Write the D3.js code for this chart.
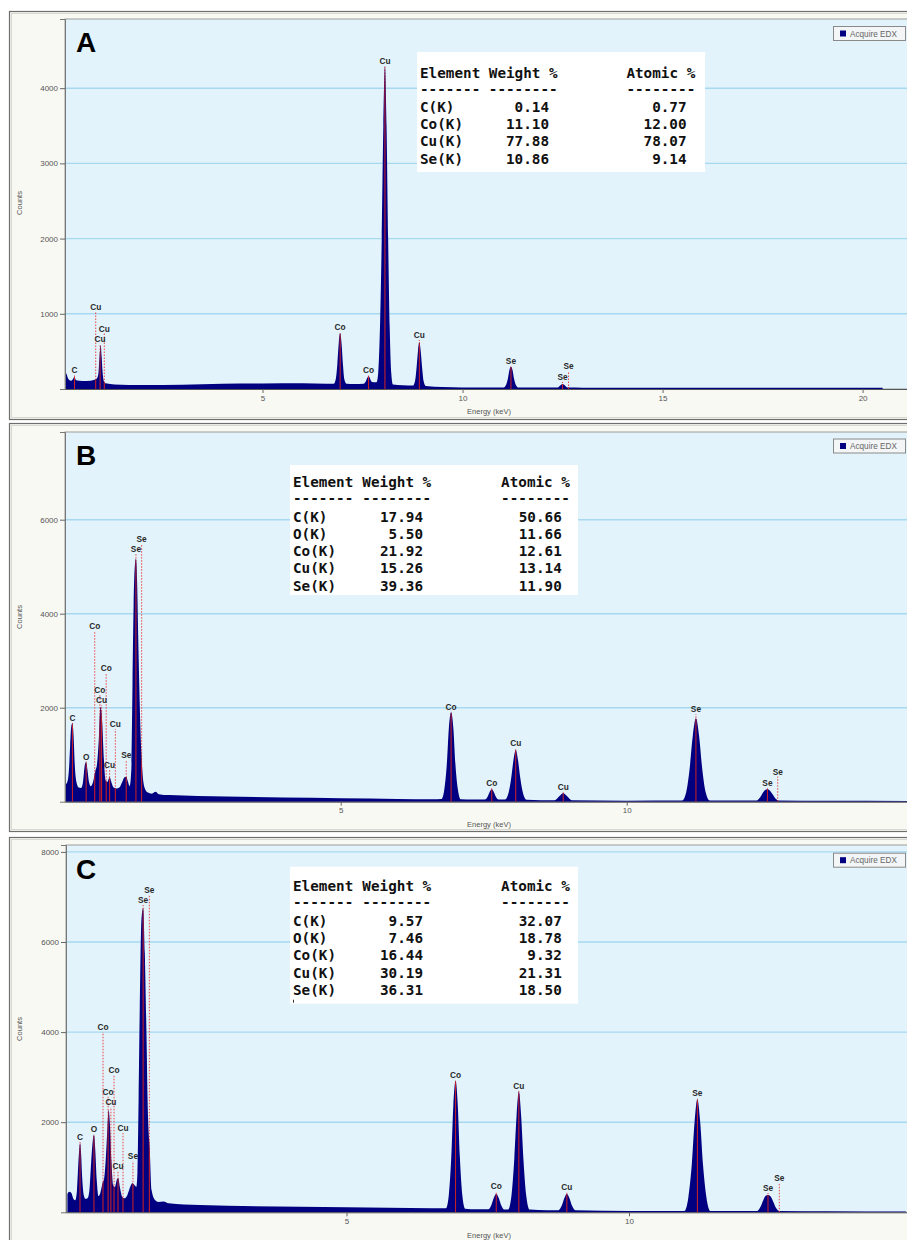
<!DOCTYPE html>
<html>
<head>
<meta charset="utf-8">
<script src="https://cdn.jsdelivr.net/npm/d3@7/dist/d3.min.js"></script>
<style>
  body { margin: 0; background: #fff; }
  svg { display: block; }
</style>
</head>
<body>
<div id="chart"></div>
<script>
// ---- spectra: [energy keV, counts] ----
var spectrumA = [
  [0.07, 230], [0.1, 200], [0.15, 130], [0.22, 110], [0.27, 140], [0.3, 160], [0.34, 115], [0.5, 105],
  [0.7, 110], [0.82, 125], [0.87, 150], [0.9, 220], [0.925, 420], [0.955, 585], [0.98, 420], [1.0, 240],
  [1.03, 110], [1.08, 75], [1.3, 60], [2.0, 52], [3.0, 58], [4.0, 70], [5.0, 72], [6.0, 75], [6.6, 70],
  [6.78, 70], [6.83, 130], [6.87, 330], [6.905, 610], [6.94, 740], [6.975, 610], [7.01, 330], [7.05, 120], [7.1, 70],
  [7.3, 65], [7.53, 70], [7.58, 100], [7.62, 150], [7.65, 165], [7.68, 150], [7.72, 100], [7.77, 90],
  [7.85, 90], [7.89, 200], [7.94, 900], [7.98, 2000], [8.02, 3500], [8.06, 4285], [8.1, 3500], [8.14, 2000],
  [8.18, 800], [8.22, 200], [8.26, 60], [8.5, 50], [8.76, 45], [8.81, 100], [8.85, 280], [8.885, 500],
  [8.92, 620], [8.955, 500], [8.99, 280], [9.03, 100], [9.08, 40], [9.5, 25], [10.0, 20], [11.03, 20],
  [11.08, 45], [11.13, 130], [11.17, 250], [11.21, 297], [11.25, 250], [11.29, 130], [11.34, 45], [11.39, 20],
  [12.38, 20], [12.45, 50], [12.5, 66], [12.55, 50], [12.62, 20], [13.0, 18], [15.0, 15], [18.0, 15], [20.5, 15]
];
var spectrumB = [
  [0.18, 355], [0.22, 420], [0.25, 700], [0.27, 1200], [0.29, 1600], [0.31, 1668], [0.33, 1400], [0.35, 800],
  [0.38, 420], [0.42, 300], [0.46, 290], [0.49, 380], [0.51, 600], [0.53, 800], [0.55, 838], [0.57, 700],
  [0.6, 420], [0.63, 330], [0.67, 420], [0.71, 650], [0.74, 800], [0.77, 1300], [0.8, 2021], [0.83, 1700],
  [0.86, 900], [0.89, 450], [0.92, 420], [0.96, 520], [0.99, 420], [1.03, 300], [1.08, 280], [1.13, 300],
  [1.18, 420], [1.22, 520], [1.25, 532], [1.28, 430], [1.31, 330], [1.34, 700], [1.36, 2500], [1.38, 4200],
  [1.4, 5000], [1.42, 5170], [1.44, 4700], [1.46, 3500], [1.48, 2400], [1.5, 1500], [1.53, 700], [1.57, 300],
  [1.62, 200], [1.7, 170], [1.76, 210], [1.82, 160], [2.0, 140], [3.0, 110], [4.0, 90], [5.0, 75], [6.0, 60],
  [6.6, 50], [6.76, 55], [6.81, 250], [6.855, 800], [6.89, 1550], [6.93, 1902], [6.97, 1550], [7.005, 800],
  [7.05, 250], [7.1, 50], [7.3, 45], [7.52, 45], [7.57, 110], [7.61, 220], [7.64, 264], [7.67, 220], [7.71, 110],
  [7.76, 45], [7.87, 45], [7.93, 170], [7.98, 500], [8.02, 880], [8.06, 1100], [8.1, 880], [8.14, 500],
  [8.19, 170], [8.25, 40], [8.5, 30], [8.74, 30], [8.8, 90], [8.85, 150], [8.89, 178], [8.93, 150], [8.98, 90],
  [9.04, 30], [10.0, 22], [10.97, 25], [11.04, 200], [11.1, 700], [11.155, 1400], [11.21, 1774], [11.265, 1400],
  [11.32, 700], [11.38, 200], [11.45, 25], [12.27, 25], [12.33, 90], [12.38, 190], [12.42, 250], [12.46, 264],
  [12.5, 240], [12.55, 160], [12.6, 70], [12.66, 25], [13.5, 18], [14.9, 15]
];
var spectrumC = [
  [0.06, 400], [0.09, 457], [0.13, 430], [0.17, 290], [0.2, 270], [0.23, 500], [0.25, 1000], [0.27, 1400],
  [0.285, 1531], [0.3, 1350], [0.32, 800], [0.35, 380], [0.38, 300], [0.42, 320], [0.45, 500], [0.48, 1100],
  [0.51, 1600], [0.53, 1716], [0.55, 1450], [0.58, 700], [0.61, 360], [0.64, 420], [0.68, 640], [0.71, 750],
  [0.74, 1200], [0.77, 1900], [0.79, 2271], [0.81, 2000], [0.84, 1100], [0.87, 600], [0.9, 560], [0.94, 740],
  [0.96, 755], [0.99, 550], [1.03, 340], [1.07, 310], [1.12, 380], [1.17, 560], [1.21, 644], [1.25, 600],
  [1.28, 560], [1.3, 900], [1.32, 2500], [1.34, 4490], [1.37, 6490], [1.4, 6748], [1.43, 5750], [1.46, 3900],
  [1.48, 2420], [1.52, 1310], [1.55, 495], [1.61, 273], [1.67, 230], [1.76, 240], [1.85, 200], [2.4, 162],
  [5.0, 110], [6.5, 89], [6.76, 90], [6.81, 380], [6.855, 1250], [6.89, 2350], [6.93, 2921], [6.97, 2350],
  [7.005, 1250], [7.05, 380], [7.1, 80], [7.3, 65], [7.51, 65], [7.56, 150], [7.61, 330], [7.65, 406],
  [7.69, 330], [7.74, 150], [7.79, 60], [7.86, 60], [7.92, 380], [7.97, 1200], [8.01, 2150], [8.05, 2677],
  [8.09, 2150], [8.13, 1200], [8.18, 380], [8.24, 60], [8.55, 45], [8.75, 45], [8.81, 150], [8.86, 330],
  [8.9, 406], [8.94, 330], [8.99, 150], [9.05, 45], [10.0, 30], [10.98, 30], [11.05, 330], [11.11, 1050],
  [11.16, 2000], [11.21, 2508], [11.26, 2000], [11.31, 1050], [11.37, 330], [11.44, 30], [12.27, 30],
  [12.33, 130], [12.38, 280], [12.42, 370], [12.46, 384], [12.5, 360], [12.55, 240], [12.6, 100], [12.66, 30],
  [13.5, 25], [14.9, 20]
];

// ---- peak markers: [energy keV, counts at top of marker line, element] ----
var markersA = [
  [0.30, 180, "C"], [0.83, 1024, "Cu"], [0.94, 600, "Cu"], [1.045, 738, "Cu"], [6.94, 758, "Co"],
  [7.65, 186, "Co"], [8.06, 4295, "Cu"], [8.92, 652, "Cu"], [11.21, 312, "Se"], [12.5, 93, "Se"], [12.65, 233, "Se"]
];
var markersB = [
  [0.31, 1675, "C"], [0.55, 855, "O"], [0.70, 3630, "Co"], [0.79, 2270, "Co"], [0.82, 2057, "Cu"],
  [0.90, 2738, "Co"], [0.96, 674, "Cu"], [1.06, 1547, "Cu"], [1.25, 887, "Se"], [1.42, 5270, "Se"],
  [1.52, 5483, "Se"], [6.93, 1919, "Co"], [7.64, 302, "Co"], [8.06, 1143, "Cu"], [8.89, 206, "Cu"],
  [11.21, 1866, "Se"], [12.46, 302, "Se"], [12.64, 536, "Se"]
];
var markersC = [
  [0.283, 1560, "C"], [0.53, 1738, "O"], [0.69, 4002, "Co"], [0.78, 2570, "Co"], [0.83, 2337, "Cu"],
  [0.885, 3048, "Co"], [0.956, 906, "Cu"], [1.044, 1760, "Cu"], [1.22, 1139, "Se"], [1.40, 6821, "Se"],
  [1.51, 7043, "Se"], [6.93, 2937, "Co"], [7.65, 462, "Co"], [8.05, 2693, "Cu"], [8.90, 450, "Cu"],
  [11.21, 2537, "Se"], [12.46, 428, "Se"], [12.66, 661, "Se"]
];

// ---- quantification tables ----
var elementsA = ["C(K)", "Co(K)", "Cu(K)", "Se(K)"];
var weightA = ["0.14", "11.10", "77.88", "10.86"];
var atomicA = ["0.77", "12.00", "78.07", "9.14"];
var elementsB = ["C(K)", "O(K)", "Co(K)", "Cu(K)", "Se(K)"];
var weightB = ["17.94", "5.50", "21.92", "15.26", "39.36"];
var atomicB = ["50.66", "11.66", "12.61", "13.14", "11.90"];
var elementsC = ["C(K)", "O(K)", "Co(K)", "Cu(K)", "Se(K)"];
var weightC = ["9.57", "7.46", "16.44", "30.19", "36.31"];
var atomicC = ["32.07", "18.78", "9.32", "21.31", "18.50"];

// ---- axis ticks ----
var yTicksA = [1000, 2000, 3000, 4000];
var yTicksB = [2000, 4000, 6000];
var yTicksC = [2000, 4000, 6000, 8000];
var xTicksA = [5, 10, 15, 20];
var xTicksB = [5, 10];
var xTicksC = [5, 10];

var width = 907, height = 1240;

var panels = [
  { id: "A", frame: [11, 419], plot: { l: 65, t: 19, r: 907, b: 389 }, xDomain: [0.0625, 21.11], yDomain: [0, 4920],
    yTicks: yTicksA, xTicks: xTicksA, spectrum: spectrumA, markers: markersA,
    elements: elementsA, weight: weightA, atomic: atomicA,
    box: { x: 417, y: 52, w: 288, h: 120 }, col0: 420, cw: 8.6, headY: 77.5, rowY: 111.7, rowH: 17.3,
    letterY: 51.5, legendY: 26, countsY: 203, energyY: 414 },
  { id: "B", frame: [423, 831], plot: { l: 65, t: 432, r: 907, b: 801.7 }, xDomain: [0.18, 14.9], yDomain: [0, 7866],
    yTicks: yTicksB, xTicks: xTicksB, spectrum: spectrumB, markers: markersB,
    elements: elementsB, weight: weightB, atomic: atomicB,
    box: { x: 290, y: 465, w: 288, h: 130 }, col0: 293, cw: 8.67, headY: 486.7, rowY: 521.7, rowH: 17.25,
    letterY: 465, legendY: 438.5, countsY: 617, energyY: 827 },
  { id: "C", frame: [837, 1270], plot: { l: 66, t: 845, r: 907, b: 1212.3 }, xDomain: [0.035, 14.92], yDomain: [0, 8153],
    yTicks: yTicksC, xTicks: xTicksC, spectrum: spectrumC, markers: markersC,
    elements: elementsC, weight: weightC, atomic: atomicC,
    box: { x: 290, y: 866.7, w: 288, h: 137 }, col0: 293, cw: 8.67, headY: 891, rowY: 925.7, rowH: 17.3,
    letterY: 879, legendY: 852.7, countsY: 1029, energyY: 1237.5 }
];

var svg = d3.select("#chart").append("svg")
  .attr("width", width)
  .attr("height", height)
  .style("font-family", "'Liberation Sans', Arial, sans-serif");

svg.append("rect").attr("width", width).attr("height", height).attr("fill", "#fff");

panels.forEach(drawPanel);

function drawPanel(p) {
  var g = svg.append("g");

  // outer frame
  g.append("rect")
    .attr("x", 9.5).attr("y", p.frame[0] + 0.5)
    .attr("width", 1000).attr("height", p.frame[1] - p.frame[0])
    .attr("fill", "#f9f9f3").attr("stroke", "#6e6e6e").attr("stroke-width", 1.2);
  g.append("rect")
    .attr("x", 11.5).attr("y", p.frame[0] + 2.5)
    .attr("width", 1000).attr("height", p.frame[1] - p.frame[0] - 4)
    .attr("fill", "none").attr("stroke", "#d8d8d2").attr("stroke-width", 1);

  var x = d3.scaleLinear().domain(p.xDomain).range([p.plot.l, p.plot.r]);
  var y = d3.scaleLinear().domain(p.yDomain).range([p.plot.b, p.plot.t]);

  // plot background
  g.append("rect")
    .attr("x", p.plot.l).attr("y", p.plot.t)
    .attr("width", p.plot.r - p.plot.l + 20).attr("height", p.plot.b - p.plot.t)
    .attr("fill", "#e2f3fb").attr("stroke", "#9c9c9c").attr("stroke-width", 1);

  // gridlines
  g.selectAll(".grid")
    .data(p.yTicks)
    .enter()
    .append("line")
    .attr("x1", p.plot.l + 1).attr("x2", p.plot.r)
    .attr("y1", function (d) { return y(d) }).attr("y2", function (d) { return y(d) })
    .attr("stroke", "#a6d9f1").attr("stroke-width", 1.4);

  var area = d3.area()
    .x(function (d) { return x(d[0]) })
    .y0(y(0))
    .y1(function (d) { return y(d[1]) })
    .curve(d3.curveMonotoneX);

  // dotted marker lines (visible above the spectrum)
  g.selectAll(".dot")
    .data(p.markers)
    .enter()
    .append("line")
    .attr("x1", function (d) { return x(d[0]) }).attr("x2", function (d) { return x(d[0]) })
    .attr("y1", y(0)).attr("y2", function (d) { return y(d[1]) })
    .attr("stroke", "#ee4444").attr("stroke-width", 1)
    .attr("stroke-dasharray", "1.5,1.5");

  // spectrum
  g.append("path")
    .datum(p.spectrum)
    .attr("d", area)
    .attr("fill", "#000080");

  // solid marker lines inside the spectrum
  g.append("clipPath").attr("id", "clip" + p.id)
    .append("path").datum(p.spectrum).attr("d", area);

  g.append("g")
    .attr("clip-path", "url(#clip" + p.id + ")")
    .selectAll("line")
    .data(p.markers)
    .enter()
    .append("line")
    .attr("x1", function (d) { return x(d[0]) }).attr("x2", function (d) { return x(d[0]) })
    .attr("y1", y(0)).attr("y2", function (d) { return y(d[1]) - 4 })
    .attr("stroke", "#d42020").attr("stroke-width", 1);

  // marker labels
  g.selectAll(".lbl")
    .data(p.markers)
    .enter()
    .append("text")
    .attr("x", function (d) { return x(d[0]) })
    .attr("y", function (d) { return y(d[1]) - 2 })
    .attr("text-anchor", "middle")
    .attr("font-size", 8.3)
    .attr("font-weight", "bold")
    .attr("fill", "#2a2a2a")
    .text(function (d) { return d[2] });

  // axes
  var yAxis = g.append("g")
    .attr("transform", "translate(" + p.plot.l + ",0)")
    .call(d3.axisLeft(y).tickValues(p.yTicks).tickSize(5).tickPadding(2).tickFormat(d3.format("d")));
  yAxis.select(".domain").attr("stroke", "#777");
  yAxis.selectAll(".tick line").attr("stroke", "#666");
  yAxis.selectAll(".tick text").attr("font-size", 8).attr("fill", "#555")
    .attr("font-family", "'Liberation Sans', Arial, sans-serif");

  var xAxis = g.append("g")
    .attr("transform", "translate(0," + p.plot.b + ")")
    .call(d3.axisBottom(x).tickValues(p.xTicks).tickSize(4).tickPadding(2).tickSizeOuter(0));
  xAxis.select(".domain").attr("stroke", "#555");
  xAxis.selectAll(".tick line").attr("stroke", "#666");
  xAxis.selectAll(".tick text").attr("font-size", 8).attr("fill", "#555")
    .attr("font-family", "'Liberation Sans', Arial, sans-serif");

  g.append("text")
    .attr("transform", "translate(22," + p.countsY + ") rotate(-90)")
    .attr("text-anchor", "middle")
    .attr("font-size", 7.5).attr("fill", "#555")
    .text("Counts");

  g.append("text")
    .attr("x", 489).attr("y", p.energyY)
    .attr("text-anchor", "middle")
    .attr("font-size", 7.5).attr("fill", "#555")
    .text("Energy (keV)");

  // panel letter
  g.append("text")
    .attr("x", 76).attr("y", p.letterY)
    .attr("font-size", 28).attr("font-weight", "bold").attr("fill", "#000")
    .text(p.id);

  // legend
  var lg = g.append("g").attr("transform", "translate(833," + p.legendY + ")");
  lg.append("rect").attr("x", 0.5).attr("y", 0.5).attr("width", 72).attr("height", 14)
    .attr("fill", "#f3f5f6").attr("stroke", "#8a8a8a");
  lg.append("rect").attr("x", 7).attr("y", 4.5).attr("width", 6).attr("height", 6).attr("fill", "#000080");
  lg.append("text").attr("x", 17).attr("y", 10.5).attr("font-size", 8.2).attr("fill", "#666").text("Acquire EDX");

  // quantification table
  var tb = g.append("g")
    .attr("font-family", "'DejaVu Sans Mono', 'Liberation Mono', monospace")
    .attr("font-size", 14.3).attr("font-weight", "bold").attr("fill", "#111");
  tb.append("rect").attr("x", p.box.x).attr("y", p.box.y).attr("width", p.box.w).attr("height", p.box.h)
    .attr("fill", "#fff");
  var c = function (n) { return p.col0 + n * p.cw };
  tb.append("text").attr("x", c(0)).attr("y", p.headY).text("Element");
  tb.append("text").attr("x", c(8)).attr("y", p.headY).text("Weight %");
  tb.append("text").attr("x", c(24)).attr("y", p.headY).text("Atomic %");
  var dashY = p.headY + 16.3;
  tb.append("text").attr("x", c(0)).attr("y", dashY).text("-------");
  tb.append("text").attr("x", c(8)).attr("y", dashY).text("--------");
  tb.append("text").attr("x", c(24)).attr("y", dashY).text("--------");

  p.elements.forEach(function (el, i) {
    var ry = p.rowY + i * p.rowH;
    tb.append("text").attr("x", c(0)).attr("y", ry).text(el);
    tb.append("text").attr("x", c(15)).attr("y", ry).attr("text-anchor", "end").text(p.weight[i]);
    tb.append("text").attr("x", c(31)).attr("y", ry).attr("text-anchor", "end").text(p.atomic[i]);
  });

  if (p.id === "C") {
    tb.append("rect").attr("x", p.col0).attr("y", p.box.y + p.box.h - 4).attr("width", 1).attr("height", 3).attr("fill", "#333");
  }
}
</script>
</body>
</html>
